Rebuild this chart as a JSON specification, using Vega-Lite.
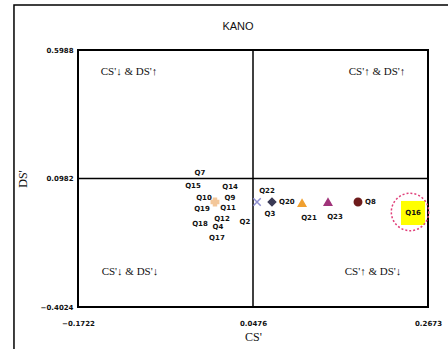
{
  "$schema": "https://vega.github.io/schema/vega-lite/v6.json",
  "width": 350,
  "height": 257,
  "autosize": {"type": "none"},
  "padding": {"left": 78, "top": 50, "right": 20, "bottom": 42},
  "background": "white",
  "config": {
    "view": {"stroke": "black", "strokeWidth": 2},
    "axis": {"grid": false, "domain": false, "ticks": false, "labelFont": "DejaVu Sans", "labelFontWeight": "bold", "labelFontSize": 7, "labelColor": "#111", "titleFont": "Liberation Serif", "titleFontWeight": "normal", "titleFontSize": 12, "titleColor": "#111"}
  },
  "datasets": {
    "points": [
      {"q": "Q7", "cs": -0.0190, "ds": 0.1196, "series": "none", "pos": "c"},
      {"q": "Q15", "cs": -0.0278, "ds": 0.0690, "series": "none", "pos": "c"},
      {"q": "Q14", "cs": 0.0187, "ds": 0.0651, "series": "none", "pos": "c"},
      {"q": "Q10", "cs": -0.0140, "ds": 0.0222, "series": "none", "pos": "c"},
      {"q": "Q9", "cs": 0.0187, "ds": 0.0222, "series": "none", "pos": "c"},
      {"q": "Q19", "cs": -0.0165, "ds": -0.0206, "series": "none", "pos": "c"},
      {"q": "Q11", "cs": 0.0162, "ds": -0.0167, "series": "none", "pos": "c"},
      {"q": "Q12", "cs": 0.0086, "ds": -0.0596, "series": "none", "pos": "c"},
      {"q": "Q18", "cs": -0.0190, "ds": -0.0791, "series": "none", "pos": "c"},
      {"q": "Q4", "cs": 0.0036, "ds": -0.0907, "series": "none", "pos": "c"},
      {"q": "Q17", "cs": 0.0023, "ds": -0.1336, "series": "none", "pos": "c"},
      {"q": "Q2", "cs": 0.0375, "ds": -0.0713, "series": "none", "pos": "c"},
      {"q": "Q22", "cs": 0.0651, "ds": 0.0495, "series": "none", "pos": "c"},
      {"q": "Q3", "cs": 0.0689, "ds": -0.0401, "series": "none", "pos": "c"},
      {"q": "Q13", "cs": -0.0002, "ds": 0.0067, "series": "Star", "pos": "n"},
      {"q": "Q1", "cs": 0.0526, "ds": 0.0067, "series": "X", "pos": "n"},
      {"q": "Q20", "cs": 0.0714, "ds": 0.0067, "series": "Diamond", "pos": "r"},
      {"q": "Q21", "cs": 0.1091, "ds": 0.0028, "series": "TriO", "pos": "b"},
      {"q": "Q23", "cs": 0.1417, "ds": 0.0067, "series": "TriP", "pos": "b"},
      {"q": "Q8", "cs": 0.1794, "ds": 0.0067, "series": "Circle", "pos": "r"},
      {"q": "Q16", "cs": 0.2485, "ds": 0.0067, "series": "Dash", "pos": "h"}
    ],
    "quadrants": [
      {"label": "CS'↓ & DS'↑", "cs": -0.1082, "ds": 0.5131},
      {"label": "CS'↑ & DS'↑", "cs": 0.2033, "ds": 0.5131},
      {"label": "CS'↓ & DS'↓", "cs": -0.1070, "ds": -0.2660},
      {"label": "CS'↑ & DS'↓", "cs": 0.1982, "ds": -0.2660}
    ],
    "heading": [{"label": "KANO", "cs": 0.0287, "ds": 0.6884}],
    "frame": [{"x1": -0.2526, "x2": 0.33, "y1": 0.7741, "y2": -0.70}],
    "cross": [{"cs": 0.04755, "ds": 0.0982}]
  },
  "layer": [
    {
      "data": {"name": "points"},
      "transform": [{"filter": "datum.pos === 'c'"}],
      "mark": {"type": "text", "font": "DejaVu Sans", "fontWeight": "bold", "fontSize": 7, "color": "#111", "align": "center", "baseline": "middle"},
      "encoding": {
        "x": {"field": "cs", "type": "quantitative", "title": "CS'",
          "scale": {"domain": [-0.1722, 0.2673], "nice": false, "zero": false},
          "axis": {"values": [-0.1722, 0.04755, 0.2673], "format": ".4f", "labelPadding": 12, "labelFlush": false, "titlePadding": 5}},
        "y": {"field": "ds", "type": "quantitative", "title": "DS'",
          "scale": {"domain": [-0.4024, 0.5988], "nice": false, "zero": false},
          "axis": {"values": [-0.4024, 0.0982, 0.5988], "format": ".4f", "labelPadding": 5, "labelFlush": false, "titlePadding": 11}},
        "text": {"field": "q"}
      }
    },
    {
      "data": {"name": "frame"},
      "mark": {"type": "rect", "fillOpacity": 0, "stroke": "black", "strokeWidth": 1.5, "clip": false},
      "encoding": {
        "x": {"field": "x1", "type": "quantitative"},
        "x2": {"field": "x2"},
        "y": {"field": "y1", "type": "quantitative"},
        "y2": {"field": "y2"}
      }
    },
    {
      "data": {"name": "heading"},
      "mark": {"type": "text", "font": "Liberation Sans", "fontSize": 11, "color": "#111", "align": "center", "baseline": "middle", "clip": false},
      "encoding": {
        "x": {"field": "cs", "type": "quantitative"},
        "y": {"field": "ds", "type": "quantitative"},
        "text": {"field": "label"}
      }
    },
    {
      "data": {"name": "cross"},
      "mark": {"type": "rule", "color": "black", "strokeWidth": 1.5},
      "encoding": {"x": {"field": "cs", "type": "quantitative"}}
    },
    {
      "data": {"name": "cross"},
      "mark": {"type": "rule", "color": "black", "strokeWidth": 1.5},
      "encoding": {"y": {"field": "ds", "type": "quantitative"}}
    },
    {
      "data": {"name": "quadrants"},
      "mark": {"type": "text", "font": "Liberation Serif", "fontSize": 11, "color": "#111", "align": "center", "baseline": "middle"},
      "encoding": {
        "x": {"field": "cs", "type": "quantitative"},
        "y": {"field": "ds", "type": "quantitative"},
        "text": {"field": "label"}
      }
    },
    {
      "data": {"name": "points"},
      "transform": [{"filter": "datum.series !== 'none'"}],
      "mark": {"type": "point", "filled": true, "size": 55, "strokeWidth": 1.5, "opacity": 1},
      "encoding": {
        "x": {"field": "cs", "type": "quantitative"},
        "y": {"field": "ds", "type": "quantitative"},
        "shape": {"field": "series", "type": "nominal", "legend": null,
          "scale": {"domain": ["Star", "X", "Diamond", "TriO", "TriP", "Circle", "Dash"],
            "range": ["cross", "M-1,-1L1,1M-1,1L1,-1", "diamond", "triangle-up", "triangle-up", "circle", "stroke"]}},
        "fill": {"field": "series", "type": "nominal", "legend": null,
          "scale": {"domain": ["Star", "X", "Diamond", "TriO", "TriP", "Circle", "Dash"],
            "range": ["#f3c79a", "#8e8ed0", "#3a3a55", "#f0a030", "#a0347a", "#6e1c1c", "#3cb83c"]}},
        "stroke": {"field": "series", "type": "nominal", "legend": null,
          "scale": {"domain": ["Star", "X", "Diamond", "TriO", "TriP", "Circle", "Dash"],
            "range": ["#f3c79a", "#8e8ed0", "#3a3a55", "#f0a030", "#a0347a", "#6e1c1c", "#3cb83c"]}}
      }
    },
    {
      "data": {"name": "points"},
      "transform": [{"filter": "datum.pos === 'h'"}],
      "mark": {"type": "point", "shape": "square", "filled": true, "size": 580, "color": "#ffff00", "opacity": 1, "yOffset": 11},
      "encoding": {
        "x": {"field": "cs", "type": "quantitative"},
        "y": {"field": "ds", "type": "quantitative"}
      }
    },
    {
      "data": {"name": "points"},
      "transform": [{"filter": "datum.pos === 'h'"}],
      "mark": {"type": "point", "shape": "circle", "filled": false, "size": 1400, "stroke": "#e0407a", "strokeWidth": 1.5, "strokeDash": [2, 2], "opacity": 1, "xOffset": -3, "yOffset": 10},
      "encoding": {
        "x": {"field": "cs", "type": "quantitative"},
        "y": {"field": "ds", "type": "quantitative"}
      }
    },
    {
      "data": {"name": "points"},
      "transform": [{"filter": "datum.pos === 'r'"}],
      "mark": {"type": "text", "font": "DejaVu Sans", "fontWeight": "bold", "fontSize": 7, "color": "#111", "align": "left", "baseline": "middle", "dx": 7},
      "encoding": {
        "x": {"field": "cs", "type": "quantitative"},
        "y": {"field": "ds", "type": "quantitative"},
        "text": {"field": "q"}
      }
    },
    {
      "data": {"name": "points"},
      "transform": [{"filter": "datum.pos === 'b'"}],
      "mark": {"type": "text", "font": "DejaVu Sans", "fontWeight": "bold", "fontSize": 7, "color": "#111", "align": "center", "baseline": "middle", "dx": 7, "dy": 15},
      "encoding": {
        "x": {"field": "cs", "type": "quantitative"},
        "y": {"field": "ds", "type": "quantitative"},
        "text": {"field": "q"}
      }
    },
    {
      "data": {"name": "points"},
      "transform": [{"filter": "datum.pos === 'h'"}],
      "mark": {"type": "text", "font": "DejaVu Sans", "fontWeight": "bold", "fontSize": 7, "color": "#111", "align": "center", "baseline": "middle", "dy": 11},
      "encoding": {
        "x": {"field": "cs", "type": "quantitative"},
        "y": {"field": "ds", "type": "quantitative"},
        "text": {"field": "q"}
      }
    }
  ]
}
